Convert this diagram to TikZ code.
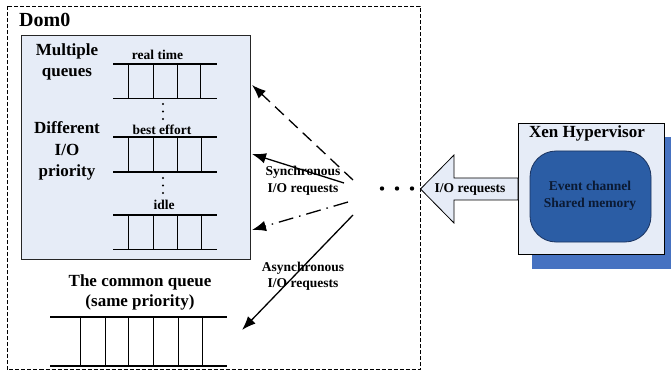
\documentclass[tikz,border=0pt]{standalone}
\usepackage{fontspec}
\setmainfont{Liberation Serif}
\usetikzlibrary{arrows.meta}
\definecolor{lightfill}{HTML}{E6ECF7}
\definecolor{shadowblue}{HTML}{4672C1}
\definecolor{darkblue}{HTML}{2B5DA5}
\definecolor{darkborder}{HTML}{1A3360}
\definecolor{navytext}{HTML}{0B1A33}
\begin{document}
\begin{tikzpicture}[x=1pt,y=-1pt,
  qline/.style={line width=1.8pt},
  qsep/.style={line width=1pt},
  huge/.style={font=\fontsize{20}{24}\selectfont\bfseries, inner sep=0pt},
  big/.style={font=\fontsize{17}{21.5}\selectfont\bfseries, align=center, inner sep=0pt},
  small/.style={font=\fontsize{13.5}{16.5}\selectfont\bfseries, align=center, inner sep=0pt},
  arr/.style={line width=1.3pt, -{Latex[length=14pt,width=10.5pt]}},
  dotmark/.style={circle, fill=black, inner sep=0pt, minimum size=2.4pt},
  bigdot/.style={circle, fill=black, inner sep=0pt, minimum size=4.4pt},
]
\useasboundingbox (0,0) rectangle (671,371);

% Dom0 dashed region
\draw[dash pattern=on 4pt off 2pt, line width=0.8pt] (7,6) rectangle (420,369.5);
\node[huge, anchor=west] (dom0) at (19,20) {Dom0};

% inner box with multiple queues
\draw[fill=lightfill, line width=0.8pt, draw=black!85] (21.7,35) rectangle (250,259);
\node[big] (multi) at (67,62) {Multiple\\queues};
\node[big] (diff) at (67,151) {Different\\I/O\\priority};

% real time queue
\node[small] (rt) at (157.5,55) {real time};
\draw[qline] (113,64) -- (217,64) (113,98.5) -- (217,98.5);
\foreach \x in {128,153,177,200} \draw[qsep] (\x,64) -- (\x,98.5);
\foreach \y [count=\i] in {104,111.5,119} \node[dotmark] (da\i) at (163,\y) {};

% best effort queue
\node[small] (be) at (162,130) {best effort};
\draw[qline] (113,137) -- (217,137) (113,172) -- (217,172);
\foreach \x in {128,153,177,201} \draw[qsep] (\x,137) -- (\x,172);
\foreach \y [count=\i] in {178,185.5,193} \node[dotmark] (db\i) at (163,\y) {};

% idle queue
\node[small] (idle) at (164,205) {idle};
\draw[qline] (113,215) -- (217,215) (113,249.5) -- (217,249.5);
\foreach \x in {128,153,177,201} \draw[qsep] (\x,215) -- (\x,249.5);

% common queue
\node[big, font=\fontsize{17}{20}\selectfont\bfseries] (common) at (140,292) {The common queue\\(same priority)};
\draw[qline] (50,317) -- (227,317) (50,366) -- (227,366);
\foreach \x in {80,105,128,153,178,202} \draw[qsep] (\x,317) -- (\x,366);

% arrow end points
\coordinate (s1) at (353,180);  \coordinate (t1) at (252,85);
\coordinate (s2) at (344,183);  \coordinate (t2) at (252,154);
\coordinate (s3) at (348,202);  \coordinate (t3) at (252,230);
\coordinate (s4) at (353,215);  \coordinate (t4) at (242,330);

\draw[arr, dash pattern=on 12pt off 7pt] (s1) -- (t1);
\draw[arr] (s2) -- (t2);
\draw[arr, dash pattern=on 15pt off 6pt on 1.5pt off 6pt] (s3) -- (t3);
\draw[arr] (s4) -- (t4);

\node[small] (sync) at (303,181) {Synchronous\\I/O requests};
\node[small] (async) at (303,276.5) {Asynchronous\\I/O requests};

% dots
\node[bigdot] (p1) at (382,188.5) {};
\node[bigdot] (p2) at (397,188.5) {};
\node[bigdot] (p3) at (412,188.5) {};

% Xen hypervisor
\fill[shadowblue] (532,137) rectangle (671,269);
\draw[fill=lightfill, line width=0.8pt] (518,123) rectangle (664,254);
\node[big] (xen) at (587,133) {Xen Hypervisor};
\draw[fill=darkblue, draw=darkborder, line width=0.8pt, rounded corners=26pt] (530,151) rectangle (651,242);
\node[small, text=navytext, font=\fontsize{13.5}{17.5}\selectfont\bfseries] (ev) at (590,196) {Event channel\\Shared memory};

% block arrow
\draw[fill=lightfill, line width=0.8pt] (420.5,189) -- (454,155) -- (454,178) -- (518,178) -- (518,200) -- (454,200) -- (454,223) -- cycle;
\node[small] (ioreq) at (470,189) {I/O requests};
\end{tikzpicture}
\end{document}
